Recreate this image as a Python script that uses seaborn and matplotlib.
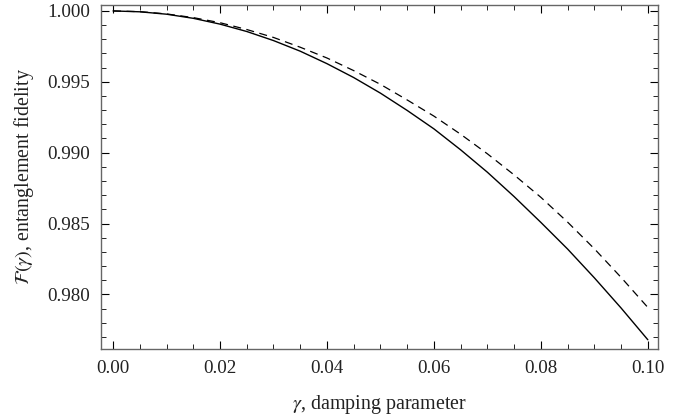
import matplotlib
matplotlib.use("Agg")
import matplotlib.pyplot as plt
import seaborn as sns
import pandas as pd
from matplotlib.ticker import MultipleLocator, FormatStrFormatter

gamma = [0.000, 0.005, 0.010, 0.015, 0.020, 0.025, 0.030, 0.035, 0.040, 0.045, 0.050,
         0.055, 0.060, 0.065, 0.070, 0.075, 0.080, 0.085, 0.090, 0.095, 0.100]
fid_solid = [1.00000, 0.99994, 0.99977, 0.99948, 0.99907, 0.99855, 0.99791, 0.99716,
             0.99628, 0.99530, 0.99420, 0.99298, 0.99168, 0.99020, 0.98862, 0.98690,
             0.98508, 0.98320, 0.98117, 0.97904, 0.97680]
fid_dashed = [1.00000, 0.99995, 0.99979, 0.99953, 0.99917, 0.99869, 0.99813, 0.99744,
              0.99668, 0.99579, 0.99482, 0.99372, 0.99258, 0.99130, 0.98992, 0.98843,
              0.98685, 0.98510, 0.98322, 0.98120, 0.97908]

sns.set_theme(style="ticks")
plt.rcParams['font.family'] = ['Liberation Serif', 'DejaVu Serif']
plt.rcParams['mathtext.fontset'] = 'stix'

df = pd.DataFrame({"gamma": gamma + gamma,
                   "F": fid_solid + fid_dashed,
                   "curve": ["solid"] * len(gamma) + ["dashed"] * len(gamma)})

fig = plt.figure(figsize=(6.9, 4.2), dpi=100)
ax = fig.add_axes([0.1464, 0.1698, 0.9536 - 0.1464, 0.9888 - 0.1698])

sns.lineplot(data=df[df.curve == "solid"], x="gamma", y="F", color="black",
             linewidth=1.0, ax=ax)
sns.lineplot(data=df[df.curve == "dashed"], x="gamma", y="F", color="black",
             linewidth=0.9, ax=ax)
ax.lines[-1].set_dashes([6.4, 4.4])

ax.set_xlim(-0.00225, 0.1019)
ax.set_ylim(0.97617, 1.00044)
ax.xaxis.set_major_locator(MultipleLocator(0.02))
ax.xaxis.set_minor_locator(MultipleLocator(0.005))
ax.yaxis.set_major_locator(MultipleLocator(0.005))
ax.yaxis.set_minor_locator(MultipleLocator(0.001))
ax.xaxis.set_major_formatter(FormatStrFormatter('%.2f'))
ax.yaxis.set_major_formatter(FormatStrFormatter('%.3f'))

ax.tick_params(which='both', direction='in', top=True, right=True,
               colors='black', labelsize=13.7, labelcolor='#222222')
ax.tick_params(which='major', length=6, width=0.8, pad=8)
ax.tick_params(which='minor', length=3.5, width=0.6)
for s in ax.spines.values():
    s.set_color('#666666')
    s.set_linewidth(1.0)

ax.set_xlabel(r'$\gamma$, damping parameter', fontsize=14.4, labelpad=12, color='#222222')
ax.set_ylabel(r'$\mathcal{F}(\gamma)$, entanglement fidelity', fontsize=14.4, labelpad=8, color='#222222')

fig.savefig("out.png", dpi=100)
